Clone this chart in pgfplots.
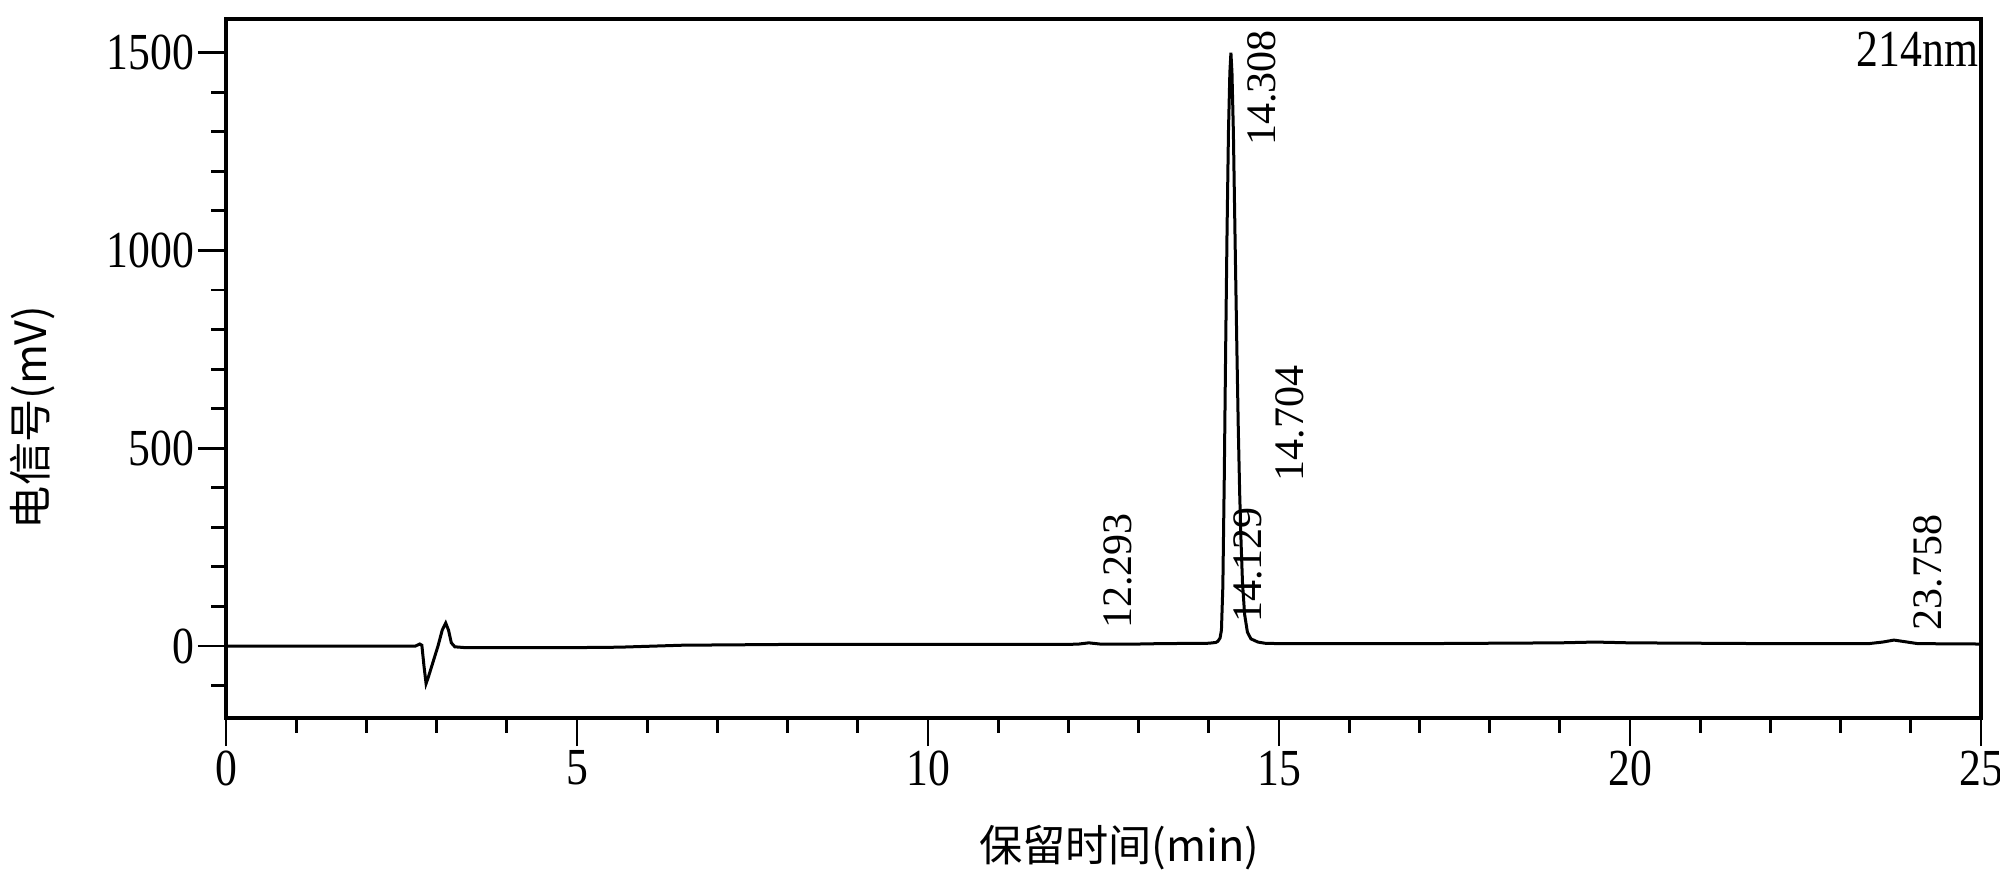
\documentclass[border=0pt]{standalone}
\usepackage{fontspec}
\setmainfont{Liberation Serif}
\newfontfamily\cjk{Noto Sans CJK SC}
\newfontfamily\tickfont{Liberation Serif}[FakeStretch=0.84]
\usepackage{pgfplots}
\pgfplotsset{compat=1.18}

\begin{document}
\begin{tikzpicture}[
    peak/.style = {rotate=90, anchor=west, inner sep=0pt, font=\fontsize{10.5}{12}\selectfont}
                   ]
\begin{axis}[
    name=ax,
    scale only axis,
    width=438.75pt, height=174.75pt,
    xmin=0, xmax=25,
    ymin=-182, ymax=1585,
    xtick={0,5,...,25},
    ytick={0,500,1000,1500},
    minor xtick={1,2,3,4,6,7,8,9,11,12,13,14,16,17,18,19,21,22,23,24},
    minor ytick={-100,100,200,300,400,600,700,800,900,1100,1200,1300,1400},
    tick pos=left,
    tick align=outside,
    major tick length=7pt,
    minor tick length=3.7pt,
    every tick/.append style={black, line width=0.7pt},
    axis line style={line width=1pt},
    /pgf/number format/assume math mode=true,
    /pgf/number format/1000 sep={},
    ticklabel style={font=\tickfont\fontsize{13}{14}\selectfont},
    xticklabel style={inner sep=1pt},
    yticklabel style={inner sep=0.8pt},
    xlabel={\cjk 保留时间(min)},
    ylabel={\cjk 电信号(mV)},
    label style={font=\fontsize{10.8}{12}\selectfont},
    xlabel style={at={(axis description cs:0.509,-0.185)}, anchor=center},
    ylabel style={at={(axis description cs:-0.11,0.43)}, anchor=center},
    clip=false
]
\addplot[black, line width=0.75pt, mark=none] coordinates {
    (0,0) (2.70,0) (2.76,5) (2.79,2) (2.82,-50) (2.85,-95) (2.88,-80)
    (2.95,-40) (3.02,0) (3.08,40) (3.13,58) (3.17,40) (3.21,8) (3.26,-2)
    (3.4,-4) (4.0,-4) (5.0,-4) (5.6,-3) (6.5,2) (8.0,4) (10.0,4)
    (12.0,4) (12.15,5) (12.29,8) (12.45,5) (13.0,5) (13.3,6) (14.0,7)
    (14.10,9) (14.13,12) (14.16,20) (14.18,40) (14.20,150) (14.22,420)
    (14.24,750) (14.26,1050) (14.28,1300) (14.30,1450) (14.315,1500)
    (14.33,1450) (14.35,1300) (14.375,1020) (14.40,750) (14.42,550)
    (14.44,385) (14.46,260) (14.48,160) (14.51,80) (14.55,35) (14.60,18)
    (14.70,10) (14.80,7) (15.0,6) (17.0,6) (19.0,8) (19.5,10) (20.0,8)
    (22.0,6) (23.4,6) (23.6,10) (23.76,15) (23.95,10) (24.1,6) (25,5)
};
\node[peak] at (axis cs:12.70,41) {12.293};
\node[peak] at (axis cs:14.55,57) {14.129};
\node[peak] at (axis cs:14.75,1262) {14.308};
\node[peak] at (axis cs:15.16,415) {14.704};
\node[peak] at (axis cs:24.24,38) {23.758};
\node[anchor=north east, inner sep=0pt, xshift=-0.5pt, yshift=-3.1pt,
      font=\tickfont\fontsize{13}{14}\selectfont] at (rel axis cs:1,1) {214nm};
\end{axis}
\pgfresetboundingbox
\path[use as bounding box] ([shift={(-56.5pt,-43pt)}]ax.south west)
    rectangle ([shift={(443.5pt,179.5pt)}]ax.south west);
\end{tikzpicture}
\end{document}
